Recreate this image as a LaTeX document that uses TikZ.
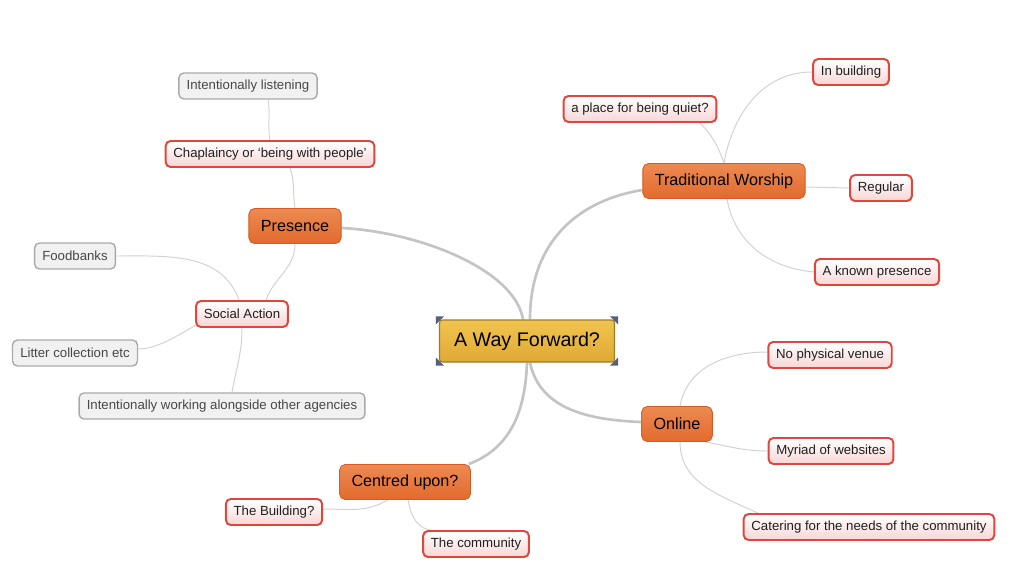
\documentclass[tikz,border=0pt]{standalone}
\usepackage{fontspec}
\setmainfont{Liberation Sans}
\usepackage{tikz}
\usetikzlibrary{positioning,backgrounds}
\definecolor{topicfill}{HTML}{E36A2D}
\definecolor{topictop}{HTML}{EC8A52}
\definecolor{topicline}{HTML}{D35A22}
\definecolor{rootfill}{HTML}{DDA935}
\definecolor{roottop}{HTML}{F2C44E}
\definecolor{rootline}{HTML}{9C7D2C}
\definecolor{subline}{HTML}{E0463C}
\definecolor{subpink}{HTML}{F7D6D6}
\definecolor{noteline}{HTML}{AAAAAA}
\definecolor{notefill}{HTML}{F1F1F1}
\definecolor{branch}{HTML}{C4C4C4}
\definecolor{twig}{HTML}{D2D2D2}
\definecolor{handlecol}{HTML}{56607A}

\begin{document}
\begin{tikzpicture}[
  x=0.025cm, y=-0.025cm,
  root/.style={draw=rootline, line width=0.8pt, rounded corners=2pt, top color=roottop, bottom color=rootfill,
    minimum width=175*0.025cm, minimum height=42*0.025cm, inner sep=0pt, font=\fontsize{14}{16}\selectfont},
  topic/.style={draw=topicline, line width=0.6pt, rounded corners=4pt, top color=topictop, bottom color=topicfill,
    minimum height=35*0.025cm, inner xsep=8.5pt, inner ysep=0pt, font=\fontsize{11.5}{13}\selectfont},
  sub/.style={draw=subline, line width=1.4pt, rounded corners=3.5pt, top color=white, bottom color=subpink,
    minimum height=26*0.025cm, inner xsep=5.5pt, inner ysep=0pt, text=black!88, font=\fontsize{9.4}{11}\selectfont},
  note/.style={draw=noteline, line width=1pt, rounded corners=3.5pt, fill=notefill,
    minimum height=26*0.025cm, inner xsep=5.5pt, inner ysep=0pt, text=black!72, font=\fontsize{9.4}{11}\selectfont},
  main/.style={draw=branch, line width=1.9pt},
  thin/.style={draw=twig, line width=0.7pt},
  handle/.style={fill=handlecol}
]
\useasboundingbox (0,0) rectangle (1024,585);

\node[root] (root) at (527,341) {A Way Forward?};
\node[topic] (pres) at (295,226) {Presence};
\node[topic] (trad) at (724,181) {Traditional Worship};
\node[topic] (onl) at (677,424) {Online};
\node[topic] (cent) at (405,482) {Centred upon?};

\node[sub] (chap) at (270,154) {Chaplaincy or ‘being with people’};
\node[note] (listen) at (248,86) {Intentionally listening};
\node[sub] (social) at (242,314) {Social Action};
\node[note] (food) at (75,256) {Foodbanks};
\node[note] (litter) at (75,353) {Litter collection etc};
\node[note] (agencies) at (222,406) {Intentionally working alongside other agencies};

\node[sub] (quiet) at (640,109) {a place for being quiet?};
\node[sub] (inbld) at (851,72) {In building};
\node[sub] (regular) at (881,188) {Regular};
\node[sub] (known) at (877,272) {A known presence};

\node[sub] (novenue) at (830,355) {No physical venue};
\node[sub] (myriad) at (831,451) {Myriad of websites};
\node[sub] (cater) at (869,527) {Catering for the needs of the community};

\node[sub] (bldg) at (274,512) {The Building?};
\node[sub] (comm) at (476,544) {The community};

\begin{pgfonlayer}{background}
% main branches
\path[main] ([xshift=-4*0.025cm]root.north) .. controls (515,270) and (420,232) .. ([yshift=-2*0.025cm]pres.east);
\path[main] ([xshift=3*0.025cm]root.north) .. controls (530,240) and (580,200) .. ([yshift=-9*0.025cm]trad.west);
\path[main] ([xshift=3*0.025cm]root.south) .. controls (540,410) and (590,420) .. ([yshift=2*0.025cm]onl.west);
\path[main] (root.south) .. controls (525,420) and (505,450) .. ([xshift=-2*0.025cm]cent.north east);

% twigs
\path[thin] (pres.north) to[out=100, in=-70] ([xshift=20*0.025cm]chap.south);
\path[thin] (chap.north) to[out=100, in=-80] ([xshift=20*0.025cm]listen.south);
\path[thin] (pres.south) to[out=-90, in=70] ([xshift=24*0.025cm]social.north);
\path[thin] ([xshift=-3*0.025cm]social.north) to[out=110, in=0] (food.east);
\path[thin] ([xshift=-6*0.025cm]social.south) to[out=110, in=0] ([yshift=4*0.025cm]litter.east);
\path[thin] (social.south) to[out=-90, in=80] ([xshift=10*0.025cm]agencies.north);

\path[thin] (trad.north) to[out=110, in=-45] ([xshift=60*0.025cm]quiet.south);
\path[thin] (trad.north) to[out=80, in=180] (inbld.west);
\path[thin] ([yshift=-6*0.025cm]trad.east) -- (regular.west);
\path[thin] ([xshift=3*0.025cm]trad.south) to[out=-80, in=175] (known.west);

\path[thin] ([xshift=3*0.025cm]onl.north) to[out=80, in=180] ([yshift=3*0.025cm]novenue.west);
\path[thin] ([xshift=-8*0.025cm]onl.south east) to[out=-10, in=180] (myriad.west);
\path[thin] ([xshift=3*0.025cm]onl.south) to[out=-90, in=155] ([xshift=15*0.025cm]cater.north west);

\path[thin] ([xshift=-17*0.025cm]cent.south) to[out=-150, in=0] ([yshift=3*0.025cm]bldg.east);
\path[thin] ([xshift=3*0.025cm]cent.south) to[out=-80, in=170] ([xshift=8*0.025cm]comm.north west);
\end{pgfonlayer}

% selection handles round the root
\fill[handle] (root.north west) ++(-3,-3) -- ++(8,0) -- ++(-8,8) -- cycle;
\fill[handle] (root.north east) ++(3,-3) -- ++(-8,0) -- ++(8,8) -- cycle;
\fill[handle] (root.south west) ++(-3,3) -- ++(8,0) -- ++(-8,-8) -- cycle;
\fill[handle] (root.south east) ++(3,3) -- ++(-8,0) -- ++(8,-8) -- cycle;
\end{tikzpicture}
\end{document}
